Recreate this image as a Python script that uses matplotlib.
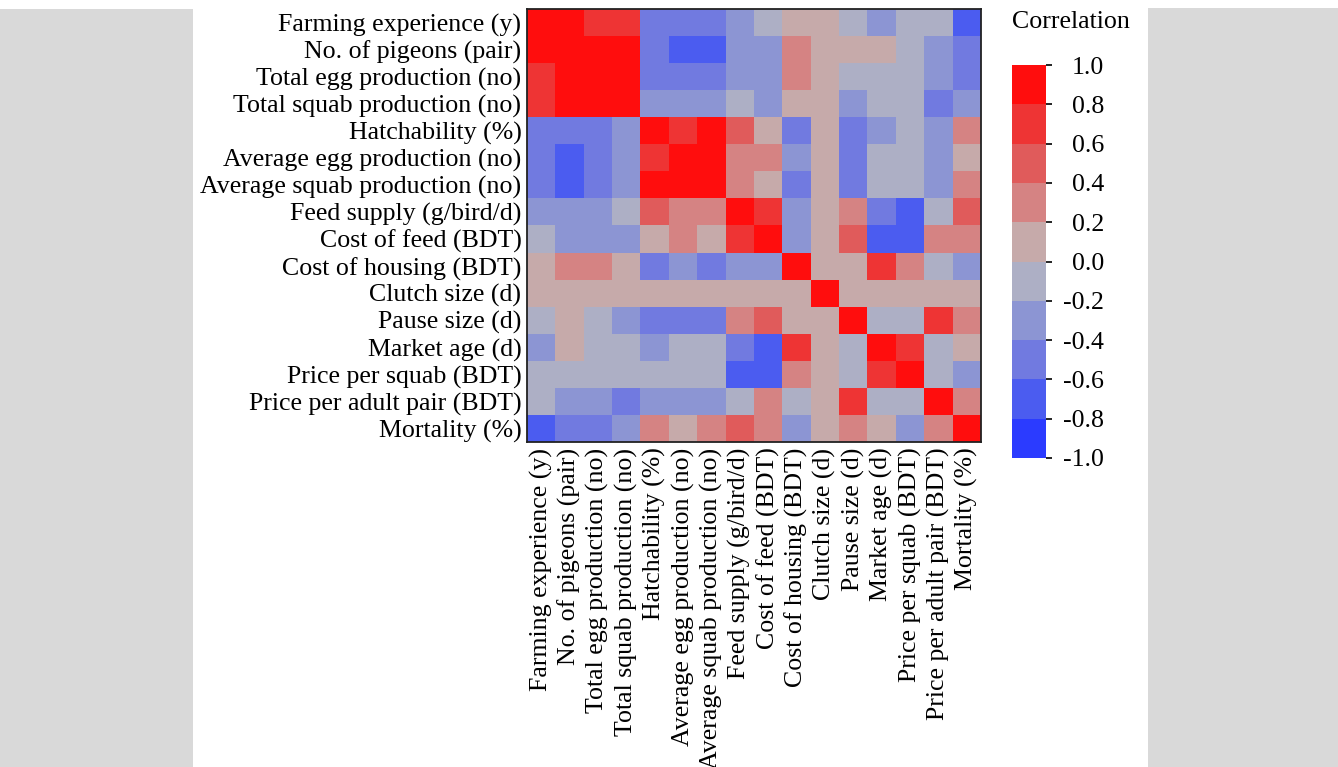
import numpy as np
import matplotlib
matplotlib.use("Agg")
import matplotlib.pyplot as plt
from matplotlib.colors import ListedColormap, BoundaryNorm
from matplotlib.patches import Rectangle

plt.rcParams['font.family'] = ['Liberation Serif', 'DejaVu Serif']

labels = [
    "Farming experience (y)", "No. of pigeons (pair)", "Total egg production (no)",
    "Total squab production (no)", "Hatchability (%)", "Average egg production (no)",
    "Average squab production (no)", "Feed supply (g/bird/d)", "Cost of feed (BDT)",
    "Cost of housing (BDT)", "Clutch size (d)", "Pause size (d)", "Market age (d)",
    "Price per squab (BDT)", "Price per adult pair (BDT)", "Mortality (%)",
]

# correlations (bin centres)
corr = [
    [0.9, 0.9, 0.7, 0.7, -0.5, -0.5, -0.5, -0.3, -0.1, 0.1, 0.1, -0.1, -0.3, -0.1, -0.1, -0.7],
    [0.9, 0.9, 0.9, 0.9, -0.5, -0.7, -0.7, -0.3, -0.3, 0.3, 0.1, 0.1, 0.1, -0.1, -0.3, -0.5],
    [0.7, 0.9, 0.9, 0.9, -0.5, -0.5, -0.5, -0.3, -0.3, 0.3, 0.1, -0.1, -0.1, -0.1, -0.3, -0.5],
    [0.7, 0.9, 0.9, 0.9, -0.3, -0.3, -0.3, -0.1, -0.3, 0.1, 0.1, -0.3, -0.1, -0.1, -0.5, -0.3],
    [-0.5, -0.5, -0.5, -0.3, 0.9, 0.7, 0.9, 0.5, 0.1, -0.5, 0.1, -0.5, -0.3, -0.1, -0.3, 0.3],
    [-0.5, -0.7, -0.5, -0.3, 0.7, 0.9, 0.9, 0.3, 0.3, -0.3, 0.1, -0.5, -0.1, -0.1, -0.3, 0.1],
    [-0.5, -0.7, -0.5, -0.3, 0.9, 0.9, 0.9, 0.3, 0.1, -0.5, 0.1, -0.5, -0.1, -0.1, -0.3, 0.3],
    [-0.3, -0.3, -0.3, -0.1, 0.5, 0.3, 0.3, 0.9, 0.7, -0.3, 0.1, 0.3, -0.5, -0.7, -0.1, 0.5],
    [-0.1, -0.3, -0.3, -0.3, 0.1, 0.3, 0.1, 0.7, 0.9, -0.3, 0.1, 0.5, -0.7, -0.7, 0.3, 0.3],
    [0.1, 0.3, 0.3, 0.1, -0.5, -0.3, -0.5, -0.3, -0.3, 0.9, 0.1, 0.1, 0.7, 0.3, -0.1, -0.3],
    [0.1, 0.1, 0.1, 0.1, 0.1, 0.1, 0.1, 0.1, 0.1, 0.1, 0.9, 0.1, 0.1, 0.1, 0.1, 0.1],
    [-0.1, 0.1, -0.1, -0.3, -0.5, -0.5, -0.5, 0.3, 0.5, 0.1, 0.1, 0.9, -0.1, -0.1, 0.7, 0.3],
    [-0.3, 0.1, -0.1, -0.1, -0.3, -0.1, -0.1, -0.5, -0.7, 0.7, 0.1, -0.1, 0.9, 0.7, -0.1, 0.1],
    [-0.1, -0.1, -0.1, -0.1, -0.1, -0.1, -0.1, -0.7, -0.7, 0.3, 0.1, -0.1, 0.7, 0.9, -0.1, -0.3],
    [-0.1, -0.3, -0.3, -0.5, -0.3, -0.3, -0.3, -0.1, 0.3, -0.1, 0.1, 0.7, -0.1, -0.1, 0.9, 0.3],
    [-0.7, -0.5, -0.5, -0.3, 0.3, 0.1, 0.3, 0.5, 0.3, -0.3, 0.1, 0.3, 0.1, -0.3, 0.3, 0.9],
]

bin_colors = ["#2B3BFF", "#4B5CF0", "#717AE0", "#8C95D3", "#ADAFC5",
              "#C6AAAA", "#D58383", "#E05B5B", "#EE3434", "#FF0D0D"]
bounds = np.linspace(-1, 1, 11)
cmap = ListedColormap(bin_colors)
norm = BoundaryNorm(bounds, cmap.N)

W, H = 1338, 767
fig = plt.figure(figsize=(W / 100, H / 100), dpi=100, facecolor="white")

# grey page margins
fig.add_artist(Rectangle((0, 0), 193 / W, 1 - 9 / H, transform=fig.transFigure,
                         facecolor="#D9D9D9", edgecolor="none", zorder=-10))
fig.add_artist(Rectangle((1148 / W, 0), (W - 1148) / W, 1 - 8 / H, transform=fig.transFigure,
                         facecolor="#D9D9D9", edgecolor="none", zorder=-10))

ax = fig.add_axes([527 / W, 1 - 442 / H, 454 / W, 433 / H])
im = ax.imshow(np.array(corr), cmap=cmap, norm=norm, aspect="auto", interpolation="nearest")
n = len(labels)
ax.set_xticks(range(n))
ax.set_yticks(range(n))
ax.set_xticklabels(labels, rotation=90, fontsize=18.6)
ax.set_yticklabels(labels, fontsize=18.6)
ax.tick_params(length=0, pad=4)
for s in ax.spines.values():
    s.set_linewidth(1.3)
    s.set_color("#222222")

cax = fig.add_axes([1012 / W, 1 - 458 / H, 34 / W, 393 / H])
cb = fig.colorbar(im, cax=cax, ticks=bounds)
cb.outline.set_visible(False)
cb.ax.set_yticklabels([f"{t:.1f}" for t in bounds], fontsize=18.6)
cb.ax.tick_params(length=4, width=1.2, pad=38)
for lab in cb.ax.get_yticklabels():
    lab.set_horizontalalignment("right")
tick_cols = [cmap(norm(t - 0.01)) if t > -1 else cmap(0) for t in bounds]
for tl, c in zip(cb.ax.yaxis.get_major_ticks(), tick_cols):
    tl.tick2line.set_color(c)
fig.text(1012 / W, 1 - 22 / H, "Correlation", fontsize=18.6, ha="left", va="center")

fig.savefig("out.png", dpi=100)
